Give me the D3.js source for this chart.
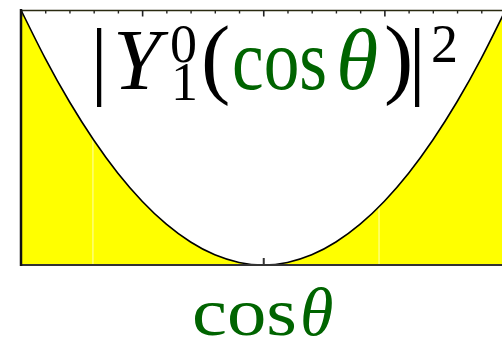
<!DOCTYPE html>
<html>
<head>
<meta charset="utf-8">
<script src="https://cdn.jsdelivr.net/npm/d3@7"></script>
<style>
  html, body { margin: 0; padding: 0; background: #fff; }
  svg { display: block; }
</style>
</head>
<body>
<svg id="chart" width="502" height="345"></svg>
<script>
// Probability density |Y_1^0|^2 sampled along cos(theta)
const cosTheta = [-1.0, -0.9, -0.8, -0.7, -0.6, -0.5, -0.4, -0.3, -0.2, -0.1, 0.0,
                   0.1,  0.2,  0.3,  0.4,  0.5,  0.6,  0.7,  0.8,  0.9, 1.0];
const density  = [0.2387, 0.1934, 0.1528, 0.1170, 0.0859, 0.0597, 0.0382, 0.0215, 0.0095, 0.0024, 0.0,
                  0.0024, 0.0095, 0.0215, 0.0382, 0.0597, 0.0859, 0.1170, 0.1528, 0.1934, 0.2387];
const majorTicks = [-1.0, -0.5, 0.0, 0.5, 1.0];
const minorTicks = [-0.9, -0.8, -0.7, -0.6, -0.4, -0.3, -0.2, -0.1, 0.1, 0.2, 0.3, 0.4, 0.6, 0.7, 0.8, 0.9];
// faint seams inside the filled region
const seams = [-0.703, 0.478];

const svg = d3.select("#chart");
const x = d3.scaleLinear().domain([-1, 1]).range([21, 505.5]);
const y = d3.scaleLinear().domain([0, 0.2387]).range([265, 10]);

const pts = cosTheta.map((c, i) => ({ c, p: density[i] }));

// bottom ticks sit beneath the fill
svg.append("g")
  .attr("transform", `translate(0,${y(0)})`)
  .call(d3.axisBottom(x).tickValues(minorTicks).tickSize(-3).tickSizeOuter(0).tickFormat(""))
  .call(g => g.select(".domain").remove())
  .call(g => g.selectAll("line").attr("stroke", "#333").attr("stroke-width", 1.5));
svg.append("g")
  .attr("transform", `translate(0,${y(0)})`)
  .call(d3.axisBottom(x).tickValues(majorTicks).tickSize(-7).tickSizeOuter(0).tickFormat(""))
  .call(g => g.select(".domain").remove())
  .call(g => g.selectAll("line").attr("stroke", "#333").attr("stroke-width", 2));

// filled area under the curve
const area = d3.area().x(d => x(d.c)).y0(y(0)).y1(d => y(d.p)).curve(d3.curveNatural);
svg.append("path").datum(pts)
  .attr("d", area)
  .attr("fill", "#ffff00");

svg.append("clipPath").attr("id", "fillClip")
  .append("path").datum(pts).attr("d", area);
svg.append("g").attr("clip-path", "url(#fillClip)")
  .selectAll("line").data(seams).join("line")
  .attr("x1", d => x(d)).attr("x2", d => x(d))
  .attr("y1", y(0.2387)).attr("y2", y(0))
  .attr("stroke", "#ffffb0").attr("stroke-width", 1);

// curve
const line = d3.line().x(d => x(d.c)).y(d => y(d.p)).curve(d3.curveNatural);
svg.append("path").datum(pts)
  .attr("d", line)
  .attr("fill", "none")
  .attr("stroke", "#000")
  .attr("stroke-width", 1.6);

// frame: top axis with inward ticks
svg.append("g")
  .attr("transform", `translate(0,${y(0.2387)})`)
  .call(d3.axisTop(x).tickValues(minorTicks).tickSize(-3.5).tickSizeOuter(0).tickFormat(""))
  .call(g => g.select(".domain").remove())
  .call(g => g.selectAll("line").attr("stroke", "#222").attr("stroke-width", 1.4));
svg.append("g")
  .attr("transform", `translate(0,${y(0.2387)})`)
  .call(d3.axisTop(x).tickValues(majorTicks).tickSize(-6.5).tickSizeOuter(0).tickFormat(""))
  .call(g => g.select(".domain").attr("stroke", "#2a2a10").attr("stroke-width", 1.6))
  .call(g => g.selectAll("line").attr("stroke", "#222").attr("stroke-width", 1.6));

// bottom axis line
svg.append("line")
  .attr("x1", x(-1)).attr("x2", x(1))
  .attr("y1", y(0)).attr("y2", y(0))
  .attr("stroke", "#333").attr("stroke-width", 2);
// left axis line
svg.append("line")
  .attr("x1", x(-1)).attr("x2", x(-1))
  .attr("y1", y(0.2387) - 1).attr("y2", y(0) + 1)
  .attr("stroke", "#111").attr("stroke-width", 2.5);

// title |Y_1^0(cos θ)|^2
const serif = "'Liberation Serif', 'DejaVu Serif', serif";
const green = "#006400";
const title = svg.append("g").attr("font-family", serif);
function put(g, txt, xPos, yPos, size, opts = {}) {
  const t = g.append("text")
    .attr("x", xPos).attr("y", yPos)
    .attr("font-size", size)
    .attr("fill", opts.fill || "#000")
    .attr("text-anchor", opts.anchor || "start")
    .text(txt);
  if (opts.italic) t.attr("font-style", "italic");
  if (opts.len) t.attr("textLength", opts.len).attr("lengthAdjust", "spacingAndGlyphs");
  return t;
}
put(title, "|", 99, 88, 86, { anchor: "middle" });
put(title, "Y", 113, 89, 86, { italic: true });
put(title, "0", 170, 62, 54);
put(title, "1", 171, 100, 54);
put(title, "(", 201, 87, 88);
put(title, "cos", 232, 89, 86, { fill: green, len: 95 });
put(title, "θ", 336, 89, 86, { fill: green, italic: true });
put(title, ")", 384, 87, 88);
put(title, "|", 417, 88, 86, { anchor: "middle" });
put(title, "2", 431, 62, 54);

// x label cos θ
const xl = svg.append("g").attr("font-family", serif);
put(xl, "cos", 192, 335, 68, { fill: green, len: 105 });
put(xl, "θ", 300, 335, 68, { fill: green, italic: true });
</script>
</body>
</html>
